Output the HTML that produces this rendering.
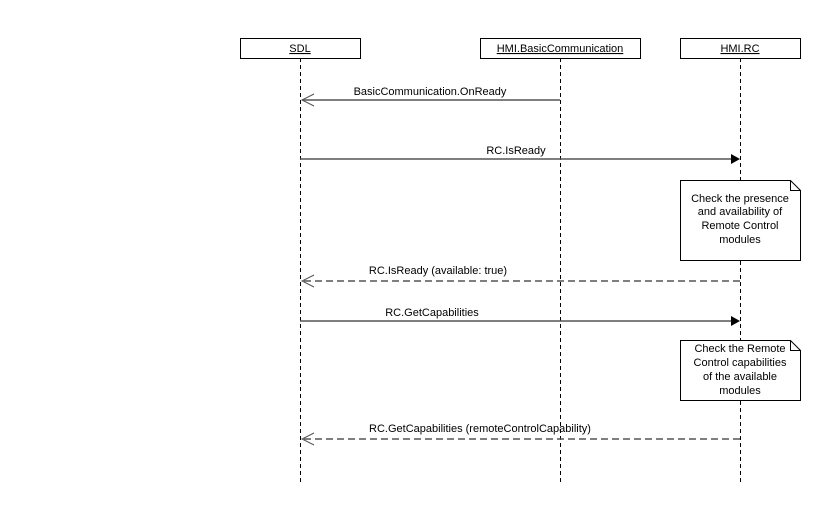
<!DOCTYPE html>
<html><head><style>body{margin:0;background:#fff}</style></head><body>
<svg width="822" height="500" xmlns="http://www.w3.org/2000/svg" font-family="Liberation Sans, sans-serif" font-size="11">
<g stroke="#000" stroke-width="1" stroke-dasharray="4,3" fill="none">
<line x1="300.5" y1="58" x2="300.5" y2="482"/>
<line x1="560.5" y1="58" x2="560.5" y2="482"/>
<line x1="740.5" y1="58" x2="740.5" y2="482"/>
</g>
<g fill="#fff" stroke="#000">
<rect x="240.5" y="38.5" width="120" height="20"/>
<rect x="480.5" y="38.5" width="160" height="20"/>
<rect x="680.5" y="38.5" width="120" height="20"/>
</g>
<g text-anchor="middle" fill="#000" text-decoration="underline">
<text x="300" y="52">SDL</text>
<text x="560" y="52">HMI.BasicCommunication</text>
<text x="740" y="52">HMI.RC</text>
</g>
<g stroke="#555" stroke-width="1.5" fill="none">
<line x1="560" y1="100" x2="302" y2="100"/>
<polyline points="314,94 302,100 314,106" stroke-width="1"/>
<line x1="300" y1="159" x2="732" y2="159"/>
<line x1="740" y1="281" x2="302" y2="281" stroke-dasharray="7,4"/>
<polyline points="314,275 302,281 314,287" stroke-width="1"/>
<line x1="300" y1="321" x2="732" y2="321"/>
<line x1="740" y1="439" x2="302" y2="439" stroke-dasharray="7,4"/>
<polyline points="314,433 302,439 314,445" stroke-width="1"/>
</g>
<polygon points="731,154 740,159 731,164" fill="#000"/>
<polygon points="731,316 740,321 731,326" fill="#000"/>
<g fill="#fff" stroke="#000">
<path d="M680.5 180.5 H790.5 L800.5 190.5 V260.5 H680.5 Z"/>
<path d="M790.5 180.5 V190.5 H800.5" fill="none"/>
<path d="M680.5 340.5 H790.5 L800.5 350.5 V400.5 H680.5 Z"/>
<path d="M790.5 340.5 V350.5 H800.5" fill="none"/>
</g>
<g text-anchor="middle" fill="#000">
<text x="430" y="95">BasicCommunication.OnReady</text>
<text x="516" y="154">RC.IsReady</text>
<text x="438" y="274">RC.IsReady (available: true)</text>
<text x="432" y="316">RC.GetCapabilities</text>
<text x="480" y="432">RC.GetCapabilities (remoteControlCapability)</text>
<text x="740" y="202">Check the presence</text>
<text x="740" y="215">and availability of</text>
<text x="740" y="229">Remote Control</text>
<text x="740" y="243">modules</text>
<text x="740" y="352">Check the Remote</text>
<text x="740" y="366">Control capabilities</text>
<text x="740" y="380">of the available</text>
<text x="740" y="394">modules</text>
</g>
</svg>
</body></html>
